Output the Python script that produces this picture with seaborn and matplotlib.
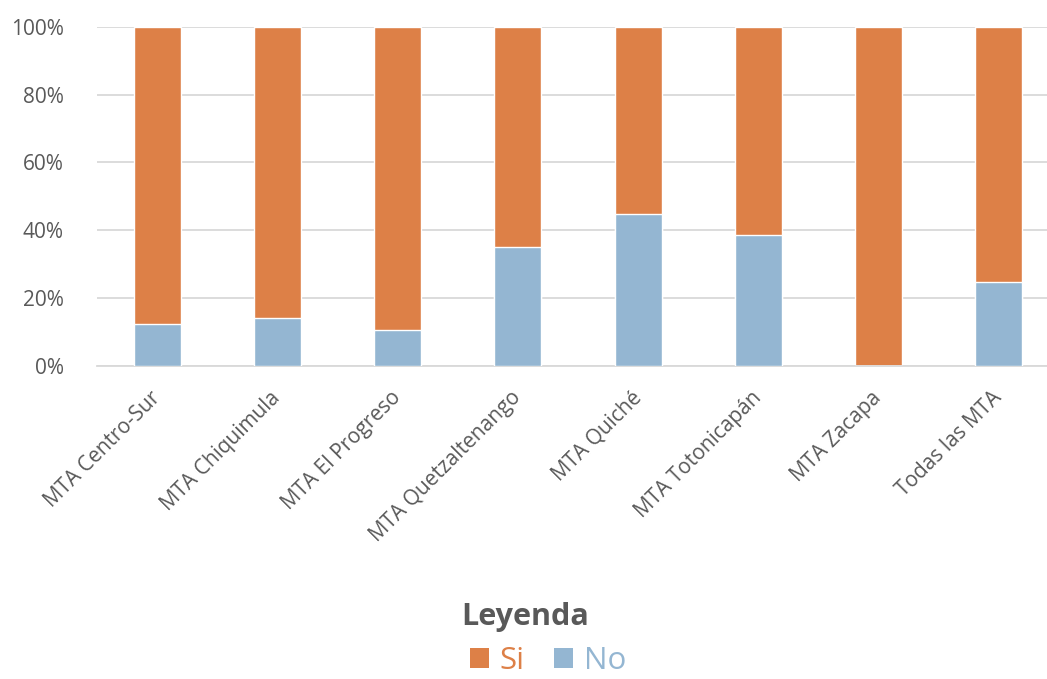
import matplotlib
matplotlib.use("Agg")
import matplotlib.pyplot as plt
from matplotlib.patches import Patch
from matplotlib.ticker import PercentFormatter
import seaborn as sns
import pandas as pd

categories = ["MTA Centro-Sur", "MTA Chiquimula", "MTA El Progreso", "MTA Quetzaltenango",
              "MTA Quiché", "MTA Totonicapán", "MTA Zacapa", "Todas las MTA"]
no_values = [0.124, 0.140, 0.106, 0.350, 0.447, 0.385, 0.0, 0.246]
si_values = [1 - v for v in no_values]
series_names = ["Si", "No"]
legend_title = "Leyenda"

ORANGE = "#DD8047"
BLUE = "#94B6D2"
GRAY = "#595959"

sns.set_theme(style="white")
plt.rcParams['font.family'] = ['Open Sans', 'DejaVu Sans']

df = pd.DataFrame({"cat": categories, "No": no_values, "Si": si_values})
df["total"] = df["No"] + df["Si"]

fig = plt.figure(figsize=(10.47, 6.79), dpi=100)
ax = fig.add_axes([97 / 1047, (679 - 365.5) / 679, (1047 - 97) / 1047, (365.5 - 27) / 679])

sns.barplot(data=df, x="cat", y="total", color=ORANGE, saturation=1, width=0.39, ax=ax, zorder=2)
sns.barplot(data=df, x="cat", y="No", color=BLUE, saturation=1, width=0.39, ax=ax, zorder=3)

ax.set_ylim(0, 1)
ax.set_xlim(-0.5, 7.4)
ax.yaxis.set_major_formatter(PercentFormatter(1.0, decimals=0))
ax.set_yticks([0, 0.2, 0.4, 0.6, 0.8, 1.0])
ax.grid(axis="y", color="#D9D9D9", linewidth=1.3, zorder=0)
ax.set_axisbelow(True)
for s in ["top", "right", "left"]:
    ax.spines[s].set_visible(False)
ax.spines["bottom"].set_color("#D9D9D9")
ax.spines["bottom"].set_linewidth(1.3)
ax.set_xlabel("")
ax.set_ylabel("")
ax.tick_params(axis="y", labelsize=15, colors=GRAY, length=0, pad=24)
ax.tick_params(axis="x", labelsize=15, colors=GRAY, length=0, pad=21)
for lbl in ax.get_xticklabels():
    lbl.set_rotation(45)
    lbl.set_ha("right")
    lbl.set_va("center")
    lbl.set_rotation_mode("anchor")

fig.text(525 / 1047, 1 - 617 / 679, legend_title, ha="center", va="center",
         fontsize=22, fontweight="bold", color=GRAY)

handles = [Patch(facecolor=ORANGE, edgecolor="none"), Patch(facecolor=BLUE, edgecolor="none")]
leg = fig.legend(handles, series_names, loc="center",
                 bbox_to_anchor=(548 / 1047, 1 - 661 / 679), ncol=2, frameon=False,
                 fontsize=22.5, handlelength=0.6, handleheight=0.6,
                 handletextpad=0.34, columnspacing=0.95, labelcolor=[ORANGE, BLUE],
                 borderpad=0, borderaxespad=0)

fig.savefig("out.png", dpi=100)
